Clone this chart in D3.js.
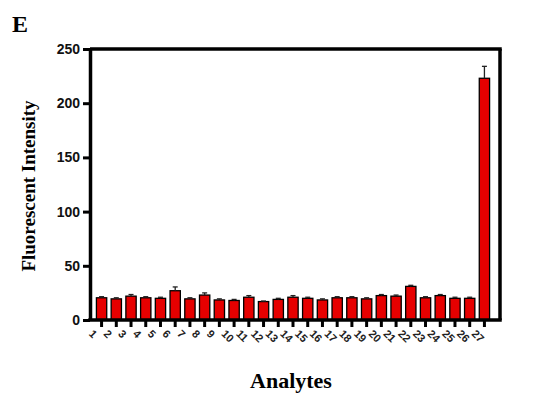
<!DOCTYPE html>
<html><head><meta charset="utf-8">
<script src="https://cdn.jsdelivr.net/npm/d3@7"></script>
<style>body{margin:0;background:#fff}</style>
</head><body>
<svg id="c" width="544" height="400"></svg>
<script>
const categories = ["1","2","3","4","5","6","7","8","9","10","11","12","13","14","15","16","17","18","19","20","21","22","23","24","25","26","27"];
const values = [20.5,19.5,22,20.5,20,27,19.5,23,18.5,18,21,17,19,21,20,18.5,20.5,20.5,19.5,22.5,22,31,20.5,22.5,20,20,223];
const errors = [1,1,1.5,1,1,3.5,1,2,1,1,1.5,0.5,1,1.5,1,1,1,1,1,1,1,1,1,1,1,1,11];
const yTicks = [0,50,100,150,200,250];

const svg = d3.select("#c");
const L = 90, R = 500, T = 49, B = 320;
const x = d3.scaleBand().domain(categories).range([92, 494]).padding(0.3);
const y = d3.scaleLinear().domain([0, 250]).range([B, T]);

// bars
svg.append("g").selectAll("rect").data(values).join("rect")
  .attr("x", (d, i) => x(categories[i]))
  .attr("y", d => y(d))
  .attr("width", x.bandwidth())
  .attr("height", d => B - y(d))
  .attr("fill", "#e60000").attr("stroke", "#000").attr("stroke-width", 1.3);

// error bars
const eg = svg.append("g").attr("stroke", "#222").attr("stroke-width", 1.3);
values.forEach((v, i) => {
  const cx = x(categories[i]) + x.bandwidth() / 2;
  eg.append("line").attr("x1", cx).attr("x2", cx).attr("y1", y(v)).attr("y2", y(v + errors[i]));
  eg.append("line").attr("x1", cx - 2.5).attr("x2", cx + 2.5).attr("y1", y(v + errors[i])).attr("y2", y(v + errors[i]));
});

// frame top and right
svg.append("line").attr("x1", L).attr("x2", R + 1.75).attr("y1", T).attr("y2", T).attr("stroke", "#000").attr("stroke-width", 3.5);
svg.append("line").attr("x1", R).attr("x2", R).attr("y1", T).attr("y2", B).attr("stroke", "#000").attr("stroke-width", 3.5);

// y axis
const ya = svg.append("g").attr("transform", `translate(${L},0)`)
  .call(d3.axisLeft(y).tickValues(yTicks).tickSize(7).tickSizeOuter(0).tickPadding(3));
ya.select(".domain").attr("stroke-width", 3.5);
ya.selectAll(".tick line").attr("stroke-width", 3);
ya.selectAll(".tick text").attr("font-family", "Liberation Sans, Arial, sans-serif").attr("font-weight", "bold").attr("font-size", 14).attr("fill", "#111");

// x axis
const xa = svg.append("g").attr("transform", `translate(0,${B})`)
  .call(d3.axisBottom(x).tickSize(7).tickSizeOuter(0));
xa.select(".domain").attr("d", `M${L - 1.75},0H${R + 1.75}`).attr("stroke-width", 3.5);
xa.selectAll(".tick line").attr("stroke-width", 3);
xa.selectAll(".tick text")
  .attr("font-family", "Liberation Sans, Arial, sans-serif").attr("font-weight", "bold").attr("font-size", 11).attr("fill", "#222")
  .attr("text-anchor", "start").attr("dy", "0.3em")
  .attr("transform", "translate(-4,5) rotate(45)");

// titles
svg.append("text").attr("x", 12).attr("y", 32).text("E")
  .attr("font-family", "Liberation Serif, Times New Roman, serif").attr("font-weight", "bold").attr("font-size", 24);
svg.append("text").attr("transform", "translate(35,186) rotate(-90)").attr("text-anchor", "middle")
  .text("Fluorescent Intensity")
  .attr("font-family", "Liberation Serif, Times New Roman, serif").attr("font-weight", "bold").attr("font-size", 19);
svg.append("text").attr("x", 291).attr("y", 388).attr("text-anchor", "middle").text("Analytes")
  .attr("font-family", "Liberation Serif, Times New Roman, serif").attr("font-weight", "bold").attr("font-size", 22);
</script>
</body></html>
